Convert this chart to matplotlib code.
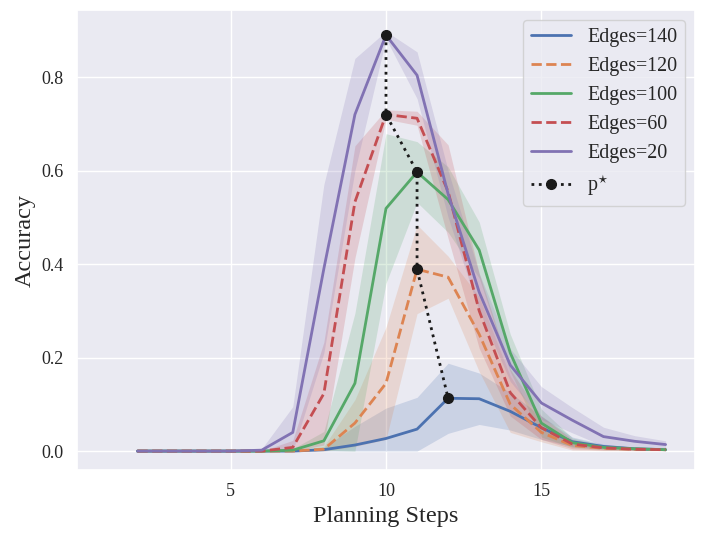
import numpy as np
import matplotlib
matplotlib.use('Agg')
import matplotlib.pyplot as plt
import seaborn as sns

# planning steps on the x axis
steps = [2, 3, 4, 5, 6, 7, 8, 9, 10, 11, 12, 13, 14, 15, 16, 17, 18, 19]

# mean accuracy per edge count
acc_140 = [0, 0, 0, 0, 0, 0.0, 0.003, 0.013, 0.027, 0.047, 0.113, 0.112, 0.085, 0.05, 0.02, 0.01, 0.005, 0.003]
acc_120 = [0, 0, 0, 0, 0, 0.0, 0.004, 0.06, 0.145, 0.389, 0.372, 0.25, 0.10, 0.04, 0.012, 0.006, 0.004, 0.003]
acc_100 = [0, 0, 0, 0, 0, 0.002, 0.022, 0.145, 0.519, 0.597, 0.538, 0.43, 0.21, 0.06, 0.018, 0.008, 0.005, 0.003]
acc_60 = [0, 0, 0, 0, 0, 0.008, 0.123, 0.533, 0.72, 0.712, 0.555, 0.30, 0.125, 0.05, 0.015, 0.007, 0.004, 0.003]
acc_20 = [0, 0, 0, 0, 0.002, 0.04, 0.39, 0.72, 0.89, 0.804, 0.55, 0.34, 0.184, 0.103, 0.066, 0.031, 0.021, 0.014]

# spread (std) per edge count
std_140 = [0, 0, 0, 0, 0, 0.0, 0.005, 0.04, 0.065, 0.068, 0.075, 0.055, 0.04, 0.025, 0.01, 0.005, 0.003, 0.002]
std_120 = [0, 0, 0, 0, 0, 0.0, 0.006, 0.05, 0.12, 0.095, 0.045, 0.08, 0.06, 0.02, 0.01, 0.005, 0.003, 0.002]
std_100 = [0, 0, 0, 0, 0, 0.003, 0.02, 0.15, 0.16, 0.065, 0.07, 0.06, 0.04, 0.03, 0.01, 0.005, 0.003, 0.002]
std_60 = [0, 0, 0, 0, 0, 0.015, 0.11, 0.12, 0.01, 0.015, 0.10, 0.08, 0.05, 0.025, 0.01, 0.005, 0.003, 0.002]
std_20 = [0, 0, 0, 0, 0.003, 0.055, 0.18, 0.12, 0.008, 0.05, 0.05, 0.04, 0.035, 0.035, 0.027, 0.02, 0.012, 0.008]

labels = ['Edges=140', 'Edges=120', 'Edges=100', 'Edges=60', 'Edges=20']
styles = ['-', '--', '-', '--', '-']


def plot_accuracy(fname='out.png'):
    sns.set_theme(style='darkgrid')
    plt.rcParams['font.family'] = ['Liberation Serif', 'DejaVu Serif']
    plt.rcParams['mathtext.fontset'] = 'stix'

    fig = plt.figure(figsize=(7.05, 5.4), dpi=100)
    ax = fig.add_axes([0.109, 0.130, 0.877, 0.851])

    x = np.array(steps)
    means = [acc_140, acc_120, acc_100, acc_60, acc_20]
    stds = [std_140, std_120, std_100, std_60, std_20]
    colors = sns.color_palette('deep')

    peak_x, peak_y = [], []
    for i, (m, s) in enumerate(zip(means, stds)):
        m = np.array(m)
        s = np.array(s)
        ax.plot(x, m, styles[i], color=colors[i], lw=2, label=labels[i])
        ax.fill_between(x, np.clip(m - s, 0, None), m + s, color=colors[i], alpha=0.2, lw=0)
        k = np.argmax(m)
        peak_x.append(x[k])
        peak_y.append(m[k])

    # p* runs from the smallest graph to the largest
    ax.plot(peak_x[::-1], peak_y[::-1], ':', color='k', lw=2, marker='o', ms=7,
            label=r'p$^{\star}$', zorder=5)

    ax.set_xlim(0.05, 19.95)
    ax.set_ylim(-0.04, 0.943)
    ax.set_xticks([5, 10, 15])
    ax.set_yticks([0.0, 0.2, 0.4, 0.6, 0.8])
    ax.tick_params(labelsize=13)
    ax.set_xlabel('Planning Steps', fontsize=17.5)
    ax.set_ylabel('Accuracy', fontsize=17.5)
    ax.legend(loc='upper right', fontsize=14.4)

    fig.savefig(fname)


if __name__ == "__main__":
    plot_accuracy()
